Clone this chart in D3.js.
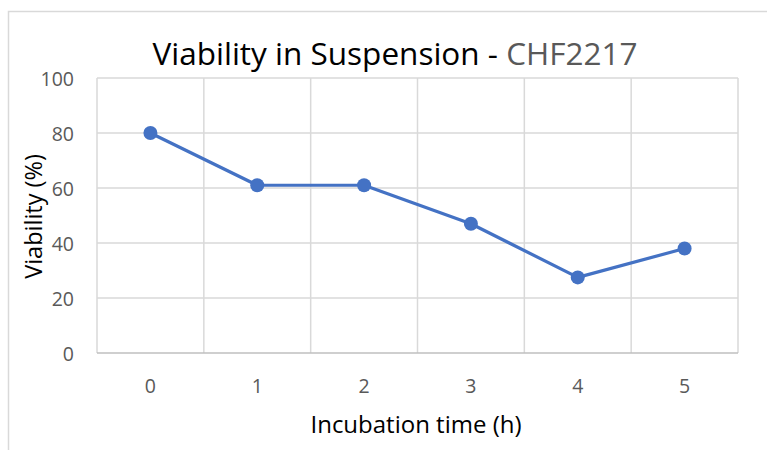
<!DOCTYPE html>
<html>
<head>
<meta charset="utf-8">
<script src="https://cdn.jsdelivr.net/npm/d3@7"></script>
<style>
  body { margin: 0; background: #fff; }
  text { font-family: "Open Sans", sans-serif; }
</style>
</head>
<body>
<div id="chart"></div>
<script>
const hours = ["0", "1", "2", "3", "4", "5"];
const viability = [80, 61, 61, 47, 27.5, 38];
const yTicks = [0, 20, 40, 60, 80, 100];

const width = 767, height = 450;
const plotLeft = 97, plotRight = 738, plotTop = 78, plotBottom = 353;

const svg = d3.select("#chart").append("svg")
    .attr("width", width).attr("height", height);

// chart area border
svg.append("rect")
    .attr("x", 8.5).attr("y", 11.5)
    .attr("width", 780).attr("height", 460)
    .style("fill", "none")
    .style("stroke", "#d9d9d9")
    .style("stroke-width", 1.5);

const x = d3.scaleBand().domain(hours).range([plotLeft, plotRight]).padding(0);
const y = d3.scaleLinear().domain([0, 100]).range([plotBottom, plotTop]);

// horizontal gridlines
svg.append("g").selectAll("line")
    .data(yTicks.filter(d => d > 0))
    .enter().append("line")
    .attr("x1", plotLeft).attr("x2", plotRight)
    .attr("y1", d => y(d)).attr("y2", d => y(d))
    .style("stroke", "#d9d9d9").style("stroke-width", 1.5);

// vertical gridlines at category edges
const edges = hours.map(d => x(d)).concat([x(hours[hours.length - 1]) + x.bandwidth()]);
svg.append("g").selectAll("line")
    .data(edges)
    .enter().append("line")
    .attr("x1", d => d).attr("x2", d => d)
    .attr("y1", plotTop).attr("y2", plotBottom)
    .style("stroke", "#d9d9d9").style("stroke-width", 1.5);

// x axis line
svg.append("line")
    .attr("x1", plotLeft).attr("x2", plotRight)
    .attr("y1", y(0)).attr("y2", y(0))
    .style("stroke", "#bfbfbf").style("stroke-width", 1.5);

// y tick labels
svg.append("g").selectAll("text")
    .data(yTicks)
    .enter().append("text")
    .attr("x", 74).attr("y", d => y(d))
    .attr("text-anchor", "end")
    .attr("dominant-baseline", "central")
    .style("font-size", "19.5px")
    .style("fill", "#595959")
    .text(d => d);

// x tick labels
svg.append("g").selectAll("text")
    .data(hours)
    .enter().append("text")
    .attr("x", d => x(d) + x.bandwidth() / 2)
    .attr("y", 385)
    .attr("text-anchor", "middle")
    .attr("dominant-baseline", "central")
    .style("font-size", "19.5px")
    .style("fill", "#595959")
    .text(d => d);

// line + markers
const line = d3.line()
    .x((d, i) => x(hours[i]) + x.bandwidth() / 2)
    .y(d => y(d));

svg.append("path")
    .datum(viability)
    .attr("d", line)
    .style("fill", "none")
    .style("stroke", "#4472c4")
    .style("stroke-width", 3.2)
    .style("stroke-linejoin", "round");

svg.append("g").selectAll("circle")
    .data(viability)
    .enter().append("circle")
    .attr("cx", (d, i) => x(hours[i]) + x.bandwidth() / 2)
    .attr("cy", d => y(d))
    .attr("r", 7)
    .style("fill", "#4472c4");

// title
const title = svg.append("text")
    .attr("x", 395).attr("y", 65)
    .attr("text-anchor", "middle")
    .style("font-size", "31.5px")
    .style("fill", "#000");
title.append("tspan").text("Viability in Suspension - ");
title.append("tspan").style("fill", "#595959").text("CHF2217");

// axis titles
svg.append("text")
    .attr("x", 416).attr("y", 433)
    .attr("text-anchor", "middle")
    .style("font-size", "24px")
    .style("fill", "#000")
    .text("Incubation time (h)");

svg.append("text")
    .attr("transform", `translate(42, ${(plotTop + plotBottom) / 2 + 1}) rotate(-90)`)
    .attr("text-anchor", "middle")
    .style("font-size", "23.5px")
    .style("fill", "#000")
    .text("Viability (%)");
</script>
</body>
</html>
